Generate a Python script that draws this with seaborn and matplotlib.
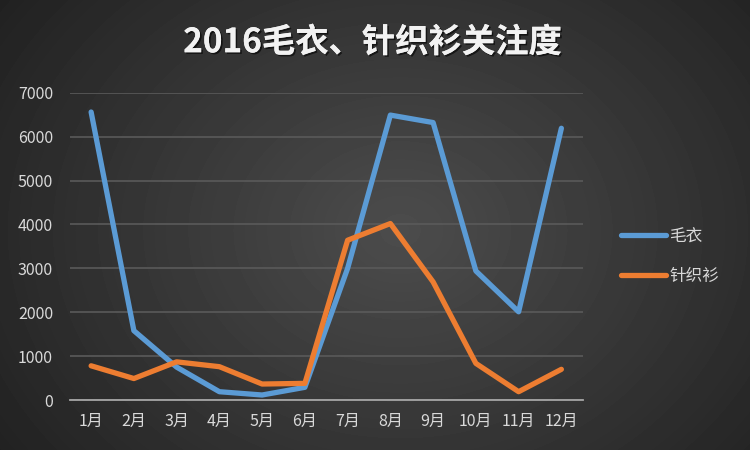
import numpy as np
import pandas as pd
import matplotlib
matplotlib.use("Agg")
import matplotlib.pyplot as plt
import matplotlib.patheffects as pe
import seaborn as sns

# ---- data ----
months = ["1月", "2月", "3月", "4月", "5月", "6月", "7月", "8月", "9月", "10月", "11月", "12月"]
sweater = [6560, 1580, 750, 190, 115, 290, 3000, 6490, 6320, 2940, 2010, 6190]
cardigan = [780, 490, 870, 760, 365, 380, 3640, 4020, 2690, 835, 190, 700]
series_names = ["毛衣", "针织衫"]
colors = ["#5B9BD5", "#ED7D31"]

df = pd.DataFrame({
    "月份": months * 2,
    "关注度": sweater + cardigan,
    "类别": [series_names[0]] * len(months) + [series_names[1]] * len(months),
})

sns.set_theme(style="dark")
plt.rcParams["font.family"] = ["Noto Sans CJK SC", "DejaVu Sans"]
plt.rcParams["axes.unicode_minus"] = False

fig = plt.figure(figsize=(7.5, 4.5), dpi=100)

# radial gradient background
bg = fig.add_axes([0, 0, 1, 1], zorder=0)
yy, xx = np.mgrid[0:450, 0:750]
r = np.sqrt(((xx - 400) / 520.0) ** 2 + ((yy - 230) / 420.0) ** 2)
shade = np.clip(0.30 - 0.18 * r, 0.11, 0.30)
bg.imshow(shade, cmap="gray", vmin=0, vmax=1, aspect="auto", interpolation="bilinear")
bg.axis("off")

ax = fig.add_axes([0.093, 0.111, 0.684, 0.683], zorder=1)
ax.set_facecolor("none")

sns.lineplot(data=df, x="月份", y="关注度", hue="类别", palette=colors,
             linewidth=3.8, sort=False, ax=ax, legend=True,
             solid_capstyle="round", solid_joinstyle="round")

ax.set_xlim(-0.5, len(months) - 0.5)
ax.set_ylim(0, 7000)
ax.set_yticks(range(0, 7001, 1000))
ax.grid(axis="y", color="#5a5a5a", linewidth=1.2)
ax.grid(axis="x", visible=False)
ax.set_axisbelow(True)
for side in ["top", "right", "left"]:
    ax.spines[side].set_visible(False)
ax.spines["bottom"].set_color("#a6a6a6")
ax.spines["bottom"].set_linewidth(1.3)
ax.tick_params(axis="both", colors="#d9d9d9", labelsize=11.5, length=0)
ax.tick_params(axis="x", pad=9)
ax.tick_params(axis="y", pad=12)
ax.set_xlabel("")
ax.set_ylabel("")

leg = ax.legend(loc="center left", bbox_to_anchor=(1.045, 0.467), frameon=False,
                fontsize=12, labelcolor="#d9d9d9", handlelength=2.7,
                handletextpad=0.2, labelspacing=1.35)
for line in leg.get_lines():
    line.set_linewidth(3.8)
    line.set_solid_capstyle("round")

fig.text(0.497, 0.905, "2016毛衣、针织衫关注度", ha="center", va="center",
         fontsize=24, fontweight="bold", color="#f2f2f2",
         path_effects=[pe.withSimplePatchShadow(offset=(1.2, -1.2), shadow_rgbFace="black", alpha=0.6),
                       pe.Normal()])

fig.savefig("out.png", dpi=100)
